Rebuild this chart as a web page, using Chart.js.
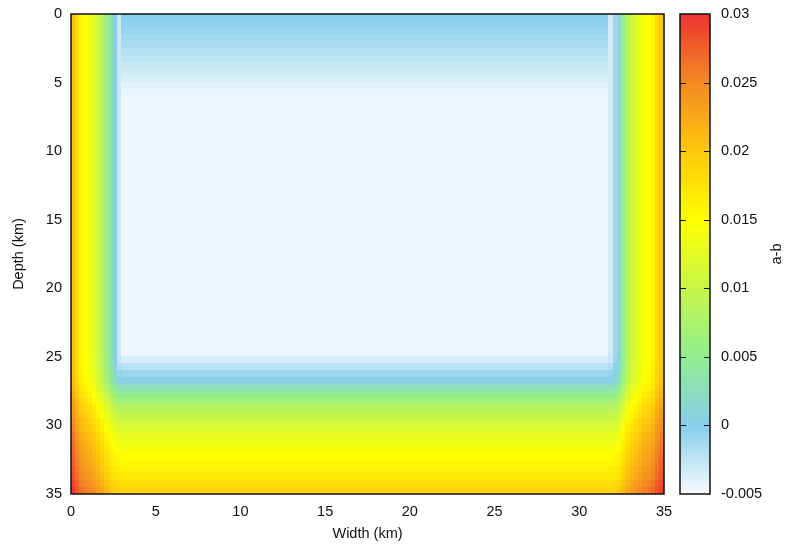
<!DOCTYPE html>
<html>
<head>
<meta charset="utf-8">
<script src="https://cdn.jsdelivr.net/npm/chart.js@4.4.1/dist/chart.umd.min.js"></script>
<style>
    html, body { margin: 0; padding: 0; background: #fff; }
    #wrap { position: relative; width: 788px; height: 548px; }
    #wrap canvas { position: absolute; left: 0; top: 0; }
</style>
</head>
<body>
<div id="wrap">
    <canvas id="mapChart" width="788" height="548"></canvas>
    <canvas id="barChart" width="788" height="548"></canvas>
</div>
<script>
// grid of the map: 0.25 km columns, 0.5 km rows, 35 x 35 km
const widthStep = 0.25
const depthStep = 0.5
const widthTicks = [0, 5, 10, 15, 20, 25, 30, 35]
const depthTicks = [0, 5, 10, 15, 20, 25, 30, 35]

// a-b value of the velocity-weakening patch
const interiorAB = -0.0045

// a-b down the middle of the fault, one value per 0.5 km row from the surface
const depthAB = [
    0.0000, -0.0004, -0.0008, -0.0012, -0.0016, -0.0020, -0.0024, -0.0028, -0.0032, -0.0036,
    -0.0040, -0.0043, -0.0045, -0.0045, -0.0045, -0.0045, -0.0045, -0.0045, -0.0045, -0.0045,
    -0.0045, -0.0045, -0.0045, -0.0045, -0.0045, -0.0045, -0.0045, -0.0045, -0.0045, -0.0045,
    -0.0045, -0.0045, -0.0045, -0.0045, -0.0045, -0.0045, -0.0045, -0.0045, -0.0045, -0.0045,
    -0.0045, -0.0045, -0.0045, -0.0045, -0.0045, -0.0045, -0.0045, -0.0045, -0.0045, -0.0045,
    -0.0035, -0.0022, -0.0009, 0.0004, 0.0025, 0.0050, 0.0067, 0.0082, 0.0095, 0.0107,
    0.0118, 0.0128, 0.0136, 0.0143, 0.0150, 0.0156, 0.0163, 0.0171, 0.0180, 0.0190,
]

// a-b across the side edges at mid depth, one value per 0.25 km column from the edge inward
const leftEdgeAB = [0.0205, 0.0180, 0.0158, 0.0148, 0.0138, 0.0125, 0.0108, 0.0088, 0.0062, 0.0030, 0.0000, -0.0030]
const rightEdgeAB = [0.0200, 0.0185, 0.0162, 0.0150, 0.0145, 0.0130, 0.0118, 0.0105, 0.0088, 0.0055, 0.0015, -0.0010, -0.0032]

// colour bar
const cbMin = -0.005
const cbMax = 0.03
const cbTicks = [-0.005, 0, 0.005, 0.01, 0.015, 0.02, 0.025, 0.03]
const cbLabels = ["-0.005", "0", "0.005", "0.01", "0.015", "0.02", "0.025", "0.03"]

const palette = [
    [-0.005, [248, 251, 255]],
    [0.0, [135, 206, 235]],
    [0.005, [144, 238, 144]],
    [0.015, [255, 255, 0]],
    [0.02, [254, 200, 12]],
    [0.025, [244, 138, 34]],
    [0.03, [238, 52, 50]],
]

function colorFor(v) {
    if (v <= palette[0][0]) return "rgb(" + palette[0][1].join(",") + ")"
    for (let i = 1; i < palette.length; i++) {
        const [v1, c1] = palette[i]
        if (v <= v1) {
            const [v0, c0] = palette[i - 1]
            const t = (v - v0) / (v1 - v0)
            const c = c0.map((a, k) => Math.round(a + (c1[k] - a) * t))
            return "rgb(" + c.join(",") + ")"
        }
    }
    return "rgb(" + palette[palette.length - 1][1].join(",") + ")"
}

// build the cells: edges take their own profile, deepened near the bottom corners
const nCols = Math.round(35 / widthStep)
const cells = []
depthAB.forEach((d, r) => {
    const z = (r + 0.5) * depthStep
    for (let c = 0; c < nCols; c++) {
        const fromRight = nCols - 1 - c
        let edge = null
        if (c < leftEdgeAB.length) edge = leftEdgeAB[c]
        else if (fromRight < rightEdgeAB.length) edge = rightEdgeAB[fromRight]
        let v = d
        if (edge !== null) {
            const deep = z > 17.5 ? Math.max(d - interiorAB, 0) : 0
            v = interiorAB + Math.hypot(edge - interiorAB, deep)
        }
        cells.push({ x: (c + 0.5) * widthStep, y: z, v: v })
    }
})

const font = { family: "'Liberation Sans', Arial, sans-serif", size: 14.5 }

const heatmapPlugin = {
    id: "heatmap",
    beforeDatasetsDraw(chart) {
        const { ctx, scales: { x, y }, chartArea } = chart
        ctx.save()
        chart.data.datasets[0].data.forEach((p) => {
            const x0 = Math.floor(x.getPixelForValue(p.x - widthStep / 2))
            const x1 = Math.ceil(x.getPixelForValue(p.x + widthStep / 2))
            const y0 = Math.floor(y.getPixelForValue(p.y - depthStep / 2))
            const y1 = Math.ceil(y.getPixelForValue(p.y + depthStep / 2))
            ctx.fillStyle = colorFor(p.v)
            ctx.fillRect(x0, y0, x1 - x0, y1 - y0)
        })
        ctx.strokeStyle = "#111"
        ctx.lineWidth = 1.5
        ctx.strokeRect(chartArea.left, chartArea.top, chartArea.right - chartArea.left, chartArea.bottom - chartArea.top)
        ctx.restore()
    },
}

const mapChart = new Chart(document.getElementById("mapChart").getContext("2d"), {
    type: "scatter",
    data: {
        datasets: [
            {
                data: cells,
                pointRadius: 0,
                pointHoverRadius: 0,
            },
        ],
    },
    options: {
        responsive: false,
        devicePixelRatio: 1,
        animation: false,
        events: [],
        layout: { padding: { top: 14, right: 124, left: 0, bottom: 0 } },
        plugins: { legend: { display: false }, tooltip: { enabled: false } },
        scales: {
            x: {
                type: "linear",
                min: 0,
                max: 35,
                afterBuildTicks: (scale) => { scale.ticks = widthTicks.map((v) => ({ value: v })) },
                afterFit: (scale) => { scale.height = 54 },
                ticks: { font: font, color: "#111", padding: 1, maxRotation: 0 },
                grid: { display: false },
                border: { display: false },
                title: { display: true, text: "Width (km)", font: font, color: "#111", padding: { top: 0, bottom: 5 } },
            },
            y: {
                type: "linear",
                reverse: true,
                min: 0,
                max: 35,
                afterBuildTicks: (scale) => { scale.ticks = depthTicks.map((v) => ({ value: v })) },
                afterFit: (scale) => { scale.width = 71 },
                ticks: { font: font, color: "#111", padding: 1 },
                grid: { display: false },
                border: { display: false },
                title: { display: true, text: "Depth (km)", font: font, color: "#111", padding: { top: 10, bottom: 0 } },
            },
        },
    },
    plugins: [heatmapPlugin],
})

const colorbarPlugin = {
    id: "colorbar",
    beforeDatasetsDraw(chart) {
        const { ctx, chartArea } = chart
        const scale = chart.scales.cb
        const { left, right, top, bottom } = chartArea
        ctx.save()
        for (let py = Math.floor(top); py < Math.ceil(bottom); py++) {
            ctx.fillStyle = colorFor(scale.getValueForPixel(py + 0.5))
            ctx.fillRect(left, py, right - left, 1)
        }
        ctx.strokeStyle = "#111"
        ctx.lineWidth = 1
        cbTicks.forEach((v) => {
            if (v === cbMin || v === cbMax) return
            const py = Math.round(scale.getPixelForValue(v)) + 0.5
            ctx.beginPath()
            ctx.moveTo(left, py)
            ctx.lineTo(left + 6, py)
            ctx.moveTo(right - 6, py)
            ctx.lineTo(right, py)
            ctx.stroke()
        })
        ctx.lineWidth = 1.5
        ctx.strokeRect(left, top, right - left, bottom - top)
        // colour bar label, rotated like the depth label
        ctx.fillStyle = "#111"
        ctx.font = font.size + "px " + font.family
        ctx.textAlign = "center"
        ctx.textBaseline = "middle"
        ctx.translate(777, (top + bottom) / 2)
        ctx.rotate(-Math.PI / 2)
        ctx.fillText("a-b", 0, 0)
        ctx.restore()
    },
}

const barChart = new Chart(document.getElementById("barChart").getContext("2d"), {
    type: "scatter",
    data: { datasets: [{ data: [], yAxisID: "cb" }] },
    options: {
        responsive: false,
        devicePixelRatio: 1,
        animation: false,
        events: [],
        layout: { padding: { top: 14, right: 0, left: 680, bottom: 54 } },
        plugins: { legend: { display: false }, tooltip: { enabled: false } },
        scales: {
            x: { display: false, min: 0, max: 1 },
            cb: {
                type: "linear",
                position: "right",
                min: cbMin,
                max: cbMax,
                afterBuildTicks: (scale) => { scale.ticks = cbTicks.map((v) => ({ value: v })) },
                afterFit: (scale) => { scale.width = 78 },
                ticks: {
                    font: font,
                    color: "#111",
                    padding: 3,
                    callback: (value) => cbLabels[cbTicks.indexOf(value)],
                },
                grid: { display: false },
                border: { display: false },
            },
        },
    },
    plugins: [colorbarPlugin],
})
</script>
</body>
</html>
